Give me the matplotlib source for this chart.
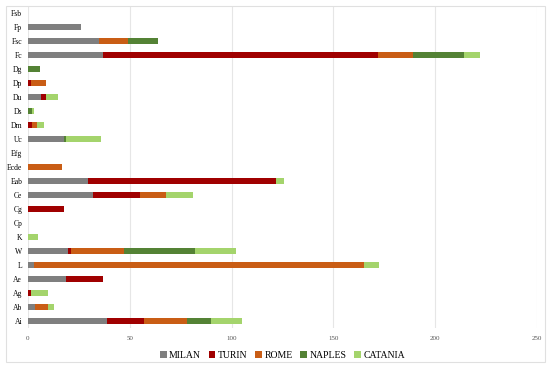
import numpy as np
import matplotlib.pyplot as plt
from matplotlib.patches import Rectangle

# categories listed bottom to top
categories = ["Ai", "Ab", "Ag", "Ae", "L", "W", "K", "Cp", "Cg", "Ce", "Eab", "Ecde",
              "Efg", "Uc", "Dm", "Ds", "Du", "Dp", "Dg", "Fc", "Fsc", "Fp", "Fsb"]

milan   = [38.8, 3.8, 0, 18.7, 3, 19.8, 0, 0, 0, 31.8, 29.6, 0, 0, 18, 0, 0, 6.7, 0, 0, 36.7, 35, 26, 0]
turin   = [18.2, 0, 1.8, 18.3, 0, 1.2, 0, 0, 18, 23.1, 92.4, 0, 0, 0, 2, 0, 2.1, 1.8, 0, 135.3, 0, 0, 0]
rome    = [21, 6.2, 0, 0, 161.8, 26.2, 0, 0, 0, 13.1, 0, 17, 0, 0, 2.7, 0, 0, 7.4, 0, 17, 14, 0, 0]
naples  = [12, 0, 0, 0, 0, 34.8, 0, 0, 0, 0, 0, 0, 0, 1, 0, 2.2, 0, 0, 6, 25, 15, 0, 0]
catania = [15, 3, 8.2, 0, 7.5, 20, 5, 0, 0, 13, 3.5, 0, 0, 17, 3.3, 0.8, 6.2, 0, 0, 8, 0, 0, 0]

series = {"MILAN": milan, "TURIN": turin, "ROME": rome, "NAPLES": naples, "CATANIA": catania}
colors = {"MILAN": "#7f7f7f", "TURIN": "#a00000", "ROME": "#c95d15",
          "NAPLES": "#548235", "CATANIA": "#a4d46c"}

plt.rcParams['font.family'] = ['Liberation Serif', 'DejaVu Serif']

fig = plt.figure(figsize=(5.5, 3.69), dpi=100)
ax = fig.add_axes([0.0504, 0.111, 0.9266, 0.873])

y = np.arange(len(categories))
left = np.zeros(len(categories))
for name, vals in series.items():
    vals = np.array(vals)
    ax.barh(y, vals, left=left, height=0.42, color=colors[name], label=name, zorder=3)
    left += vals

ax.set_xlim(0, 250)
ax.set_ylim(-0.5, len(categories) - 0.5)
ax.set_yticks(y)
ax.set_yticklabels(categories, fontsize=5.5)
ax.set_xticks([0, 50, 100, 150, 200, 250])
ax.tick_params(axis='x', labelsize=5, length=0, pad=6, colors='#555555')
ax.tick_params(axis='y', length=0, pad=4)
ax.grid(axis='x', color='#e6e6e6', linewidth=0.8, zorder=0)
for s in ax.spines.values():
    s.set_visible(False)

ax.legend(loc='upper center', bbox_to_anchor=(0.5, -0.045), ncol=5, frameon=False,
          fontsize=7, handlelength=0.7, handleheight=0.7, handletextpad=0.25, columnspacing=0.8)

fig.patches.append(Rectangle((5.5 / 550, 1 - 362 / 369), 539.5 / 550, 356.5 / 369,
                             transform=fig.transFigure, fill=False,
                             edgecolor='#e0e0e0', linewidth=0.8))

plt.savefig("out.png", dpi=100)
